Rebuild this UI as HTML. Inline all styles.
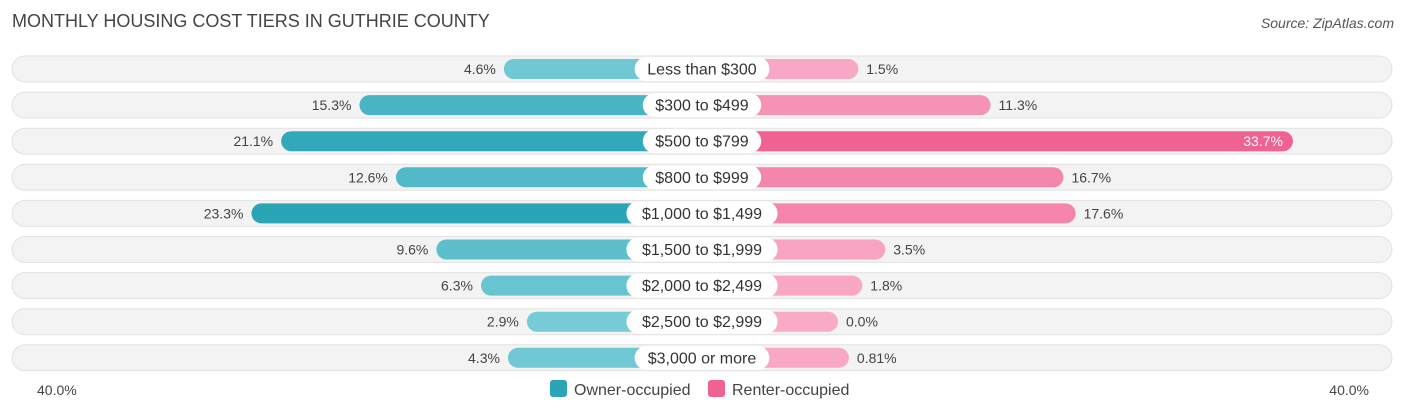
<!DOCTYPE html>
<html><head><meta charset="utf-8"><style>
body{margin:0;width:1406px;height:414px;background:#fff;font-family:"Liberation Sans",sans-serif;position:relative;overflow:hidden}
.t{position:absolute;color:#444}
</style></head><body>
<div class="t" style="left:12px;top:11px;font-size:18px;color:#444">MONTHLY HOUSING COST TIERS IN GUTHRIE COUNTY</div>
<div class="t" style="right:12px;top:15px;font-size:14px;font-style:italic;color:#555">Source: ZipAtlas.com</div>
<svg id="c" width="1406" height="414" style="position:absolute;left:0;top:0"></svg>
<script>
const categories=["Less than $300","$300 to $499","$500 to $799","$800 to $999","$1,000 to $1,499","$1,500 to $1,999","$2,000 to $2,499","$2,500 to $2,999","$3,000 or more"];
const owner=[4.6,15.3,21.1,12.6,23.3,9.6,6.3,2.9,4.3];
const renter=[1.5,11.3,33.7,16.7,17.6,3.5,1.8,0.0,0.81];
const ownerLabels=["4.6%","15.3%","21.1%","12.6%","23.3%","9.6%","6.3%","2.9%","4.3%"];
const renterLabels=["1.5%","11.3%","33.7%","16.7%","17.6%","3.5%","1.8%","0.0%","0.81%"];
const axisLabels=["40.0%","40.0%"];
const NS="http://www.w3.org/2000/svg",svg=document.getElementById('c');
const cx=702,base=136,k=13.5,y0=69,dy=36.1;
const x=v=>base+v*k;
function mix(a,b,t){return 'rgb('+a.map((c,i)=>Math.round(c+(b[i]-c)*t)).join(',')+')';}
const mo=Math.max(...owner),mr=Math.max(...renter);
function el(t,a,p){const e=document.createElementNS(NS,t);for(const q in a)e.setAttribute(q,a[q]);(p||svg).appendChild(e);return e;}
categories.forEach((c,i)=>{
 const yc=y0+i*dy;
 const g=el('g',{});
 
 
 const bg=el('rect',{x:12,y:yc-13,width:1380,height:26,rx:13,fill:'#f3f3f3',stroke:'#e2e2e2'},g);
 
 
 const wo=x(owner[i]);
 const bo=el('rect',{x:cx-wo,y:yc-10,width:wo,height:20,rx:10,fill:mix([128,208,218],[42,165,184],owner[i]/mo)},g);
 
 
 const wr=x(renter[i]);
 const br=el('rect',{x:cx,y:yc-10,width:wr,height:20,rx:10,fill:mix([248,170,198],[240,98,146],renter[i]/mr)},g);
 
 
 const tw=c.length*8.2+20;
 const pill=el('rect',{x:cx-tw/2,y:yc-12,width:tw,height:24,rx:12,fill:'#fff'},g);
 
 
 const lt=el('text',{x:cx,y:yc+5.5,'text-anchor':'middle','font-size':16,fill:'#333'},g);lt.textContent=c;
 
 
 const ol=el('text',{x:cx-wo-8,y:yc+5,'text-anchor':'end','font-size':14,fill:'#444'},g);ol.textContent=ownerLabels[i];
 
 
 const inside=renter[i]/mr>0.9;
 const rl=el('text',{x:inside?cx+wr-10:cx+wr+8,y:yc+5,'text-anchor':inside?'end':'start','font-size':14,fill:inside?'#fff':'#444'},g);rl.textContent=renterLabels[i];
 
 
});
const a1=el('text',{x:37,y:395,'font-size':14,fill:'#444'});a1.textContent=axisLabels[0];

const a2=el('text',{x:1369,y:395,'text-anchor':'end','font-size':14,fill:'#444'});a2.textContent=axisLabels[1];

const l1=el('rect',{x:550,y:380,width:17,height:17,rx:3,fill:'#2aa5b8'});

const lt1=el('text',{x:574,y:395,'font-size':16,fill:'#444'});lt1.textContent='Owner-occupied';

const l2=el('rect',{x:708,y:380,width:17,height:17,rx:3,fill:'#f06292'});

const lt2=el('text',{x:732,y:395,'font-size':16,fill:'#444'});lt2.textContent='Renter-occupied';

</script>
</body></html>
